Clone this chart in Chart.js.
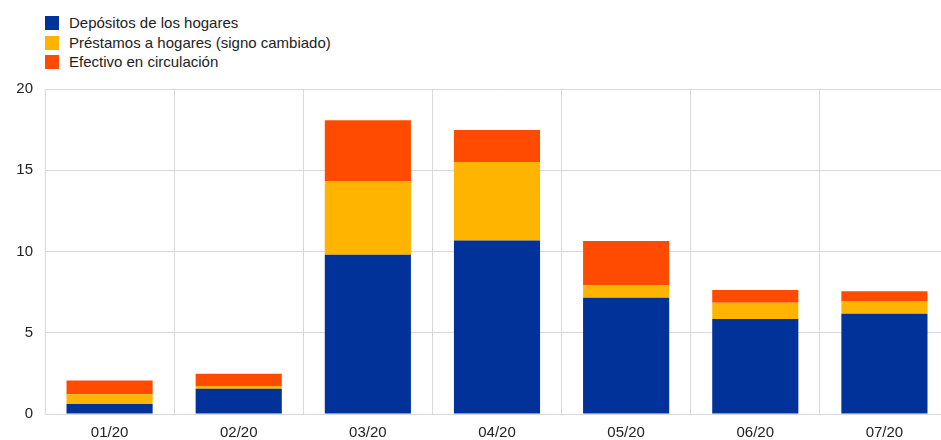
<!DOCTYPE html>
<html>
<head>
<meta charset="utf-8">
<script src="https://cdn.jsdelivr.net/npm/chart.js@4/dist/chart.umd.min.js"></script>
<style>
  body { margin: 0; width: 941px; height: 440px; overflow: hidden; background: #fff; font-family: "Liberation Sans", Arial, sans-serif; }
  #legend { position: absolute; left: 45px; top: 13px; font-size: 15px; color: #222; }
  #legend div { height: 19.5px; line-height: 19.5px; white-space: nowrap; }
  #legend span { display: inline-block; width: 14px; height: 14px; margin-right: 10px; vertical-align: -2px; }
  #wrap { position: absolute; left: 0; top: 68px; width: 952px; height: 384px; }
</style>
</head>
<body>
<div id="legend"></div>
<div id="wrap"><canvas id="chart"></canvas></div>
<script>
// monthly data
var months = ["01/20", "02/20", "03/20", "04/20", "05/20", "06/20", "07/20"];
var depositos = [0.62, 1.56, 9.80, 10.67, 7.16, 5.85, 6.17];
var prestamos = [0.60, 0.16, 4.54, 4.84, 0.76, 1.00, 0.78];
var efectivo = [0.84, 0.76, 3.73, 1.97, 2.73, 0.78, 0.60];
var yTicks = [0, 5, 10, 15, 20];

var seriesNames = ["Depósitos de los hogares", "Préstamos a hogares (signo cambiado)", "Efectivo en circulación"];
var colors = ["#003299", "#ffb400", "#ff4b00"];

// legend in html, one item per line
var legend = document.getElementById("legend");
seriesNames.forEach(function (name, i) {
  var row = document.createElement("div");
  var box = document.createElement("span");
  box.style.background = colors[i];
  row.appendChild(box);
  row.appendChild(document.createTextNode(name));
  legend.appendChild(row);
});

Chart.defaults.font.family = '"Liberation Sans", Arial, sans-serif';
Chart.defaults.font.size = 15;
Chart.defaults.color = "#222";

new Chart(document.getElementById("chart").getContext("2d"), {
  type: "bar",
  data: {
    labels: months,
    datasets: [depositos, prestamos, efectivo].map(function (values, i) {
      return {
        label: seriesNames[i],
        data: values,
        backgroundColor: colors[i],
        borderWidth: 0,
        barPercentage: 0.667,
        categoryPercentage: 1,
      };
    }),
  },
  options: {
    responsive: true,
    maintainAspectRatio: false,
    animation: false,
    layout: { padding: { left: 0, right: 3, top: 0, bottom: 0 } },
    scales: {
      x: {
        stacked: true,
        grid: { color: "#d9d9d9", drawTicks: false },
        border: { color: "#d9d9d9" },
        ticks: { padding: 10 },
      },
      y: {
        stacked: true,
        min: 0,
        max: 20,
        afterBuildTicks: function (axis) {
          axis.ticks = yTicks.map(function (v) { return { value: v }; });
        },
        afterFit: function (axis) { axis.width = 45; },
        grid: { color: "#d9d9d9", drawTicks: false },
        border: { color: "#d9d9d9" },
        ticks: { padding: 12 },
      },
    },
    plugins: {
      legend: { display: false },
      tooltip: { enabled: false },
    },
  },
});
</script>
</body>
</html>
